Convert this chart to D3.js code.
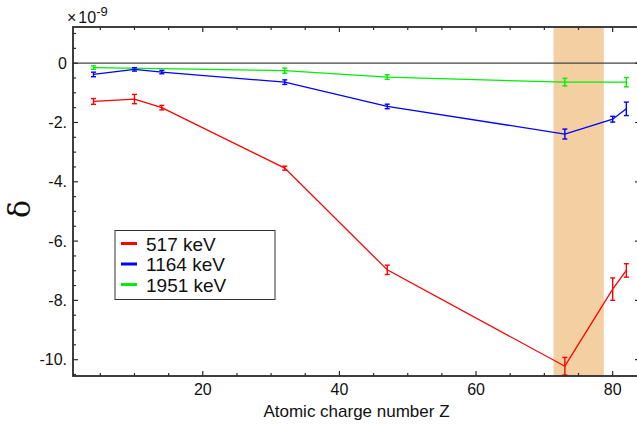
<!DOCTYPE html>
<html><head><meta charset="utf-8">
<script src="https://cdn.jsdelivr.net/npm/d3@7"></script>
<style>
html,body{margin:0;padding:0;background:#fff;}
svg{display:block;font-family:"Liberation Sans",Arial,sans-serif;}
</style></head>
<body>
<svg id="chart" width="637" height="425"></svg>
<script>
// ---- data ----
const zAll = [4, 10, 14, 32, 47, 73, 80, 82];
const red517 = [-1.29, -1.21, -1.50, -3.54, -6.97, -10.22, -7.62, -6.99];
const red517Err = [0.07, 0.13, 0.05, 0.04, 0.13, 0.27, 0.35, 0.20];
const blue1164 = [-0.38, -0.21, -0.30, -0.64, -1.46, -2.39, -1.89, -1.54];
const blue1164Err = [0.05, 0.03, 0.03, 0.05, 0.05, 0.14, 0.07, 0.20];
const zGreen = [4, 32, 47, 73, 82];
const green1951 = [-0.15, -0.25, -0.47, -0.64, -0.64];
const green1951Err = [0.03, 0.06, 0.05, 0.10, 0.13];
const seriesNames = ["517 keV", "1164 keV", "1951 keV"];
const seriesColors = ["#ff0000", "#0000ff", "#00ee00"];
const xTicks = [20, 40, 60, 80];
const yTicks = [0, -2, -4, -6, -8, -10];
const yTickLabels = ["0", "-2.", "-4.", "-6.", "-8.", "-10."];
const band = [71.35, 78.7];

// ---- layout ----
const svg = d3.select("#chart");
const L = 73, R = 640, T = 27, B = 376;
const x = d3.scaleLinear().domain([1, 84]).range([L, R]);
const y = d3.scaleLinear().domain([-10.55, 1.22]).range([B, T]);

// shaded band
svg.append("rect")
  .attr("x", x(band[0])).attr("y", T)
  .attr("width", x(band[1]) - x(band[0])).attr("height", B - T)
  .attr("fill", "#f4cfa2");

// zero line
svg.append("line")
  .attr("x1", L).attr("x2", R).attr("y1", y(0)).attr("y2", y(0))
  .attr("stroke", "#444").attr("stroke-width", 1.2);

// series
const series = [
  {z: zAll, v: red517, e: red517Err, c: seriesColors[0]},
  {z: zAll, v: blue1164, e: blue1164Err, c: seriesColors[1]},
  {z: zGreen, v: green1951, e: green1951Err, c: seriesColors[2]}
];
const line = d3.line().x(d => x(d[0])).y(d => y(d[1]));
series.slice().reverse().forEach(s => {
  const pts = s.z.map((z, i) => [z, s.v[i], s.e[i]]);
  svg.append("path").attr("d", line(pts)).attr("fill", "none")
    .attr("stroke", s.c).attr("stroke-width", 1.3);
  const g = svg.append("g").attr("stroke", s.c).attr("stroke-width", 1.4);
  pts.forEach(p => {
    const cx = x(p[0]), y1 = y(p[1] + p[2]), y2 = y(p[1] - p[2]);
    g.append("line").attr("x1", cx).attr("x2", cx).attr("y1", y1 - 0.8).attr("y2", y2 + 0.8);
    g.append("line").attr("x1", cx - 2.5).attr("x2", cx + 2.5).attr("y1", y1 - 0.8).attr("y2", y1 - 0.8);
    g.append("line").attr("x1", cx - 2.5).attr("x2", cx + 2.5).attr("y1", y2 + 0.8).attr("y2", y2 + 0.8);
  });
});

// axes ticks (inward) on all sides
const axG = svg.append("g").attr("stroke", "#2b2b2b");
const xMinor = d3.range(5, 84, 5);
xMinor.forEach(v => {
  const major = v % 20 === 0;
  const len = major ? 5 : 3;
  axG.append("line").attr("x1", x(v)).attr("x2", x(v)).attr("y1", B).attr("y2", B - len).attr("stroke-width", 1.2);
  axG.append("line").attr("x1", x(v)).attr("x2", x(v)).attr("y1", T).attr("y2", T + len).attr("stroke-width", 1.2);
});
const yMinor = d3.range(-10.5, 1.21, 0.5);
yMinor.forEach(v => {
  const major = Math.abs(v % 2) < 1e-9;
  const len = major ? 5 : 3;
  axG.append("line").attr("x1", L).attr("x2", L + len).attr("y1", y(v)).attr("y2", y(v)).attr("stroke-width", 1.2);
  axG.append("line").attr("x1", R).attr("x2", R - len).attr("y1", y(v)).attr("y2", y(v)).attr("stroke-width", 1.2);
});

// frame
svg.append("rect").attr("x", L).attr("y", T).attr("width", R - L).attr("height", B - T)
  .attr("fill", "none").attr("stroke", "#2b2b2b").attr("stroke-width", 1.8);

// tick labels
svg.append("g").selectAll("text").data(xTicks).join("text")
  .attr("x", d => x(d)).attr("y", 395).attr("text-anchor", "middle")
  .attr("font-size", 16).attr("fill", "#111").text(d => d);
svg.append("g").selectAll("text").data(yTicks).join("text")
  .attr("x", 67).attr("y", d => y(d) + 5.5).attr("text-anchor", "end")
  .attr("font-size", 16).attr("fill", "#111").text((d, i) => yTickLabels[i]);

// multiplier
const mult = svg.append("text").attr("x", 67).attr("y", 23).attr("font-size", 16).attr("fill", "#111");
mult.append("tspan").text("×");
mult.append("tspan").attr("dx", 2).text("10");
mult.append("tspan").attr("dy", -7).attr("font-size", 13).text("-9");

// axis titles
svg.append("text").attr("x", (L + R) / 2).attr("y", 417).attr("text-anchor", "middle")
  .attr("font-size", 17).attr("fill", "#111").text("Atomic charge number Z");
svg.append("text").attr("transform", "translate(30,209) rotate(-90)")
  .attr("text-anchor", "middle").attr("font-size", 30)
  .attr("font-family", "'DejaVu Serif', serif").attr("fill", "#111").text("δ");

// legend
const lg = svg.append("g");
lg.append("rect").attr("x", 115).attr("y", 230.5).attr("width", 160).attr("height", 69)
  .attr("fill", "#fff").attr("stroke", "#333").attr("stroke-width", 1);
seriesNames.forEach((n, i) => {
  const yy = 243.5 + i * 20.5;
  lg.append("line").attr("x1", 121).attr("x2", 137).attr("y1", yy).attr("y2", yy)
    .attr("stroke", seriesColors[i]).attr("stroke-width", 3);
  lg.append("text").attr("x", 146).attr("y", yy + 7).attr("font-size", 19)
    .attr("fill", "#111").text(n);
});
</script>
</body></html>
